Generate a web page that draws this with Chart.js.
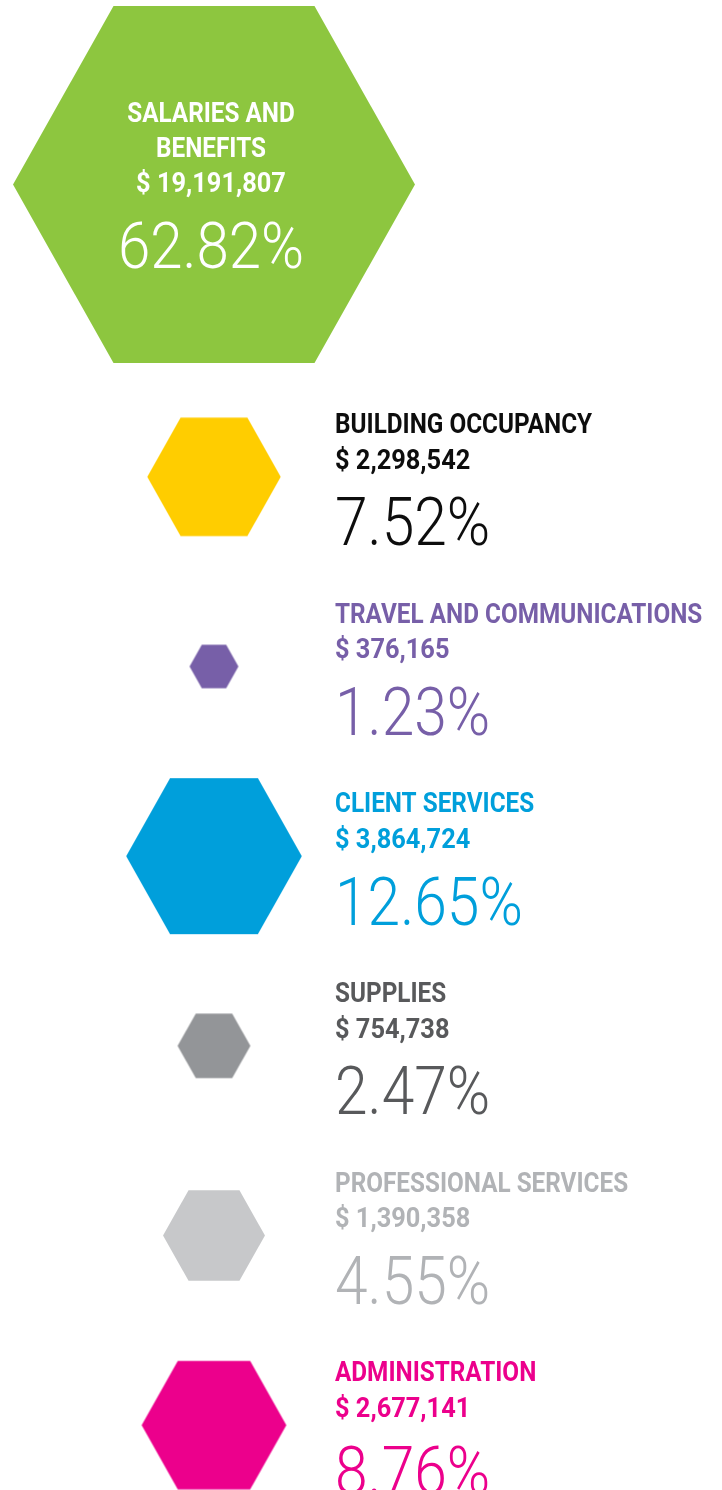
<!DOCTYPE html>
<html lang="en">
<head>
    <meta charset="UTF-8">
    <script src="https://cdn.jsdelivr.net/npm/chart.js@4.4.1/dist/chart.umd.min.js"></script>
    <style>
        html, body {
            margin: 0;
            padding: 0;
            background: #fff;
            overflow: hidden;
        }

        canvas {
            display: block;
        }
    </style>
    <title>Expenses</title>
</head>
<body>
    <canvas id="topChart" width="722" height="382"></canvas>
    <canvas id="rowsChart" width="722" height="1138"></canvas>

    <script>
        // chart data
        const categories = ['SALARIES AND BENEFITS', 'BUILDING OCCUPANCY', 'TRAVEL AND COMMUNICATIONS',
            'CLIENT SERVICES', 'SUPPLIES', 'PROFESSIONAL SERVICES', 'ADMINISTRATION'];
        const amounts = [19191807, 2298542, 376165, 3864724, 754738, 1390358, 2677141];
        const percents = [62.82, 7.52, 1.23, 12.65, 2.47, 4.55, 8.76];

        const hexColors = ['#8dc63f', '#ffcd00', '#775fa8', '#009fdb', '#939598', '#c7c8ca', '#ec008c'];
        const textColors = ['#ffffff', '#0d0d0d', '#775fa8', '#009fdb', '#58595b', '#b1b3b6', '#ec008c'];

        const titleFont = '700 27px Roboto, "DejaVu Sans", sans-serif';
        const titleScale = 0.9;
        const amountScale = 0.94;
        const pctFont = (size) => `300 ${size}px Roboto, "Open Sans", sans-serif`;

        // hexagon area follows the share
        function hexRadius(pct) {
            return 25.9 * Math.sqrt(pct) - 4.3;
        }

        function hexImage(color, r) {
            const halfH = r * Math.sqrt(3) / 2 * 1.025;
            const c = document.createElement('canvas');
            c.width = Math.ceil(2 * r) + 2;
            c.height = Math.ceil(2 * halfH) + 2;
            const g = c.getContext('2d');
            const cx = c.width / 2, cy = c.height / 2;
            g.fillStyle = color;
            g.beginPath();
            g.moveTo(cx - r, cy);
            g.lineTo(cx - r / 2, cy - halfH);
            g.lineTo(cx + r / 2, cy - halfH);
            g.lineTo(cx + r, cy);
            g.lineTo(cx + r / 2, cy + halfH);
            g.lineTo(cx - r / 2, cy + halfH);
            g.closePath();
            g.fill();
            return c;
        }

        function money(v) {
            return '$ ' + v.toLocaleString('en-US');
        }

        function drawText(ctx, text, x, y, sx) {
            ctx.save();
            ctx.translate(x, y);
            ctx.scale(sx, 1);
            ctx.fillText(text, 0, 0);
            ctx.restore();
        }

        function wrap(ctx, text, maxWidth) {
            const words = text.split(' ');
            const lines = [];
            let line = '';
            words.forEach(w => {
                const test = line ? line + ' ' + w : w;
                if (line && ctx.measureText(test).width * titleScale > maxWidth) {
                    lines.push(line);
                    line = w;
                } else {
                    line = test;
                }
            });
            lines.push(line);
            return lines;
        }

        // text inside the big hexagon
        const insideLabels = {
            id: 'insideLabels',
            afterDraw(chart) {
                const ctx = chart.ctx;
                chart.getDatasetMeta(0).data.forEach((el, n) => {
                    const i = chart.data.datasets[0].data[n].i;
                    ctx.save();
                    ctx.fillStyle = textColors[i];
                    ctx.textAlign = 'center';
                    ctx.textBaseline = 'alphabetic';
                    ctx.font = titleFont;
                    const lines = wrap(ctx, categories[i], 200);
                    let y = el.y - 63;
                    lines.forEach(l => {
                        drawText(ctx, l, el.x - 3, y, titleScale);
                        y += 35;
                    });
                    drawText(ctx, money(amounts[i]), el.x - 3, y, amountScale);
                    ctx.font = pctFont(64);
                    drawText(ctx, percents[i].toFixed(2) + '%', el.x - 3, y + 76.6, 0.91);
                    ctx.restore();
                });
            }
        };

        // text to the right of the small hexagons
        const sideLabels = {
            id: 'sideLabels',
            afterDraw(chart) {
                const ctx = chart.ctx;
                chart.getDatasetMeta(0).data.forEach((el, n) => {
                    const i = chart.data.datasets[0].data[n].i;
                    const x = el.x + 121;
                    const y = el.y - 44;
                    ctx.save();
                    ctx.fillStyle = textColors[i];
                    ctx.textAlign = 'left';
                    ctx.textBaseline = 'alphabetic';
                    ctx.font = titleFont;
                    drawText(ctx, categories[i], x, y, titleScale);
                    drawText(ctx, money(amounts[i]), x, y + 35.7, amountScale);
                    ctx.font = pctFont(66);
                    drawText(ctx, percents[i].toFixed(2) + '%', x, y + 112.4, 0.89);
                    ctx.restore();
                });
            }
        };

        function makeChart(canvasId, idx, padding, labelPlugin) {
            const ctx = document.getElementById(canvasId).getContext('2d');
            return new Chart(ctx, {
                type: 'scatter',
                data: {
                    datasets: [{
                        data: idx.map(i => ({ x: 'share', y: categories[i], i: i })),
                        pointStyle: idx.map(i => hexImage(hexColors[i], hexRadius(percents[i]))),
                        pointRadius: idx.map(i => hexRadius(percents[i])),
                        backgroundColor: idx.map(i => hexColors[i]),
                        borderWidth: 0,
                        clip: false
                    }]
                },
                options: {
                    responsive: false,
                    animation: false,
                    events: [],
                    layout: { padding: padding, autoPadding: false },
                    plugins: {
                        legend: { display: false },
                        tooltip: { enabled: false }
                    },
                    scales: {
                        x: {
                            type: 'category',
                            labels: ['share'],
                            offset: true,
                            display: false
                        },
                        y: {
                            type: 'category',
                            labels: idx.map(i => categories[i]),
                            offset: true,
                            display: false
                        }
                    }
                },
                plugins: [labelPlugin]
            });
        }

        makeChart('topChart', [0], { top: 0, bottom: 13, left: 0, right: 294 }, insideLabels);
        makeChart('rowsChart', [1, 2, 3, 4, 5, 6], { top: 0, bottom: 0, left: 0, right: 294 }, sideLabels);
    </script>
</body>
</html>
